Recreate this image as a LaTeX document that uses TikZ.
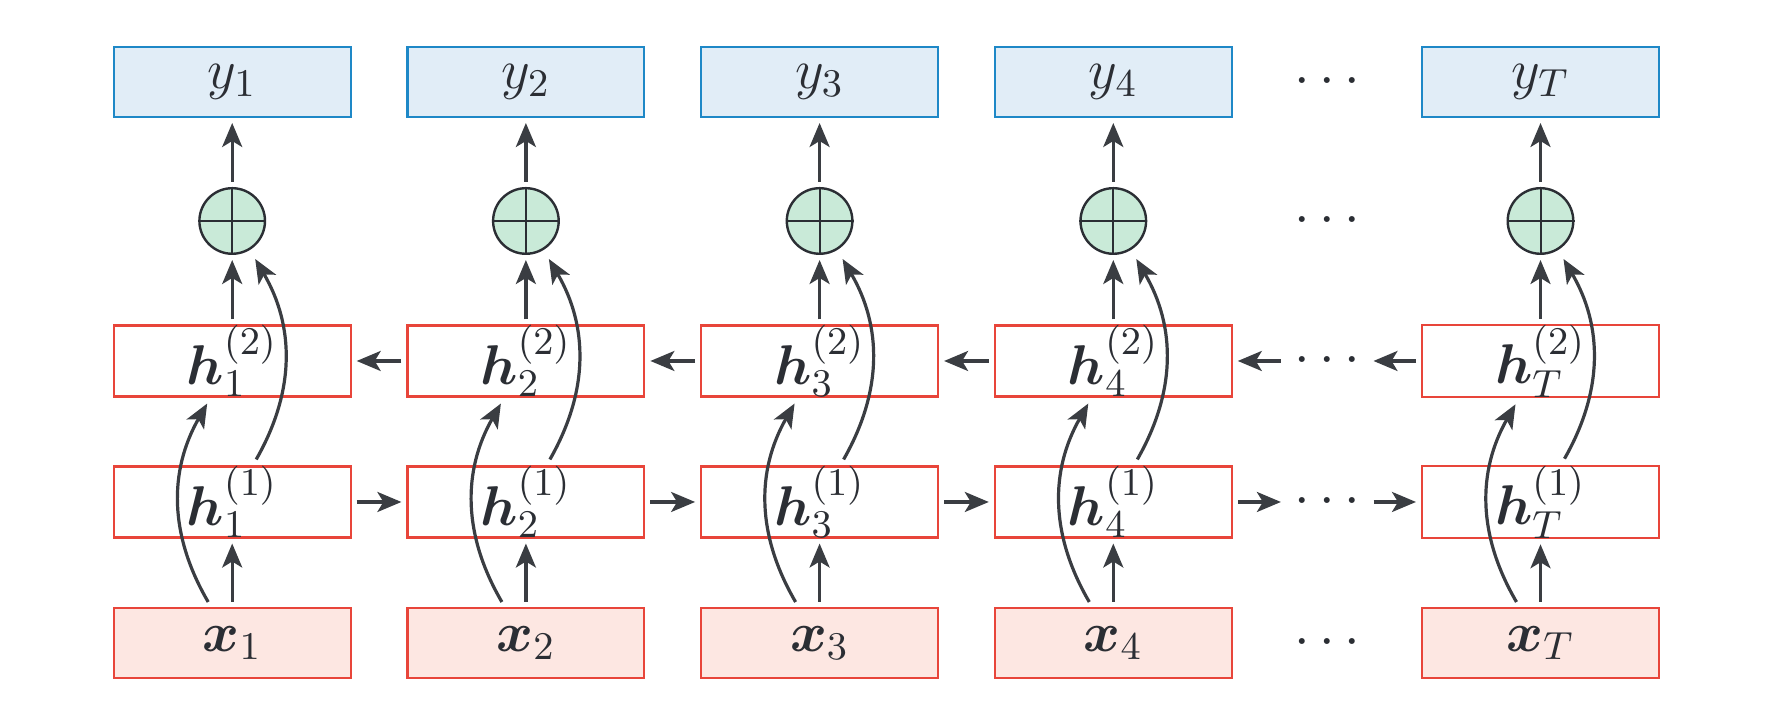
\documentclass[tikz,border=0pt]{standalone}
\usepackage{fix-cm}
\usepackage{bm}
\usetikzlibrary{arrows.meta,calc}
\definecolor{yblue}{HTML}{1E88C7}
\definecolor{yfill}{HTML}{E1EDF7}
\definecolor{hred}{HTML}{E8453A}
\definecolor{xfill}{HTML}{FDE7E2}
\definecolor{gfill}{HTML}{C9EAD8}
\definecolor{txt}{HTML}{2B2E34}
\definecolor{arrc}{HTML}{3A3D42}
\tikzset{
 ybox/.style={draw=yblue, fill=yfill, line width=0.55pt, minimum width=59.2pt, minimum height=17.45pt, inner sep=0pt, font=\fontsize{14}{16}\selectfont, text=txt},
 hbox/.style={ybox, draw=hred, fill=white},
 xbox/.style={ybox, draw=hred, fill=xfill},
 sumnode/.style={circle, draw=txt, fill=gfill, line width=0.6pt, minimum size=16.4pt, inner sep=0pt},
 crossline/.style={draw=txt, line width=0.5pt},
 arr/.style={draw=arrc, line width=0.8pt, -{Stealth[length=6pt,width=5pt,inset=1.5pt]}, shorten <=1.25pt, shorten >=1.25pt},
 curvarr/.style={draw=arrc, line width=0.8pt, -{Stealth[length=6pt,width=5pt,inset=1.5pt]}},
 dotsnode/.style={minimum width=20.25pt, minimum height=17.45pt, inner sep=0pt, font=\fontsize{14}{16}\selectfont, text=txt}
}
\begin{document}
\begin{tikzpicture}[x=0.25pt,y=0.25pt]
\useasboundingbox (0,0) rectangle (1791,725);
\foreach \i/\cx in {1/232.2, 2/525.9, 3/819.6, 4/1113.3, T/1540.5}{
  \node[ybox] (y\i) at (\cx,643) {$y_{\i}$};
  \node[sumnode] (c\i) at (\cx,504) {};
  \draw[crossline] (c\i.north) -- (c\i.south);
  \draw[crossline] (c\i.west) -- (c\i.east);
  \node[hbox] (hb\i) at (\cx,364) {$\bm{h}_{\i}^{(2)}$};
  \node[hbox] (ha\i) at (\cx,223) {$\bm{h}_{\i}^{(1)}$};
  \node[xbox] (x\i) at (\cx,82) {$\bm{x}_{\i}$};
  \draw[arr] (c\i.north) -- (y\i.south);
  \draw[arr] (hb\i.north) -- (c\i.south);
  \draw[arr] (x\i.north) -- (ha\i.south);
  \draw[curvarr] ($(x\i.north)+(-24,5)$) to[bend left=30] ($(hb\i.south)+(-25,-6)$);
  \draw[curvarr] ($(ha\i.north)+(24,6)$) to[bend right=30] ($(c\i.center)+(23,-38)$);
}
\node[dotsnode] (dy) at (1327.2,643) {$\cdots$};
\node[dotsnode] (dc) at (1327.2,504) {$\cdots$};
\node[dotsnode] (db) at (1327.2,364) {$\cdots$};
\node[dotsnode] (da) at (1327.2,223) {$\cdots$};
\node[dotsnode] (dx) at (1327.2,82) {$\cdots$};
\draw[arr] (ha1.east) -- (ha2.west);
\draw[arr] (ha2.east) -- (ha3.west);
\draw[arr] (ha3.east) -- (ha4.west);
\draw[arr] (ha4.east) -- (da.west);
\draw[arr] (da.east) -- (haT.west);
\draw[arr] (hb2.west) -- (hb1.east);
\draw[arr] (hb3.west) -- (hb2.east);
\draw[arr] (hb4.west) -- (hb3.east);
\draw[arr] (db.west) -- (hb4.east);
\draw[arr] (hbT.west) -- (db.east);
\end{tikzpicture}
\end{document}
